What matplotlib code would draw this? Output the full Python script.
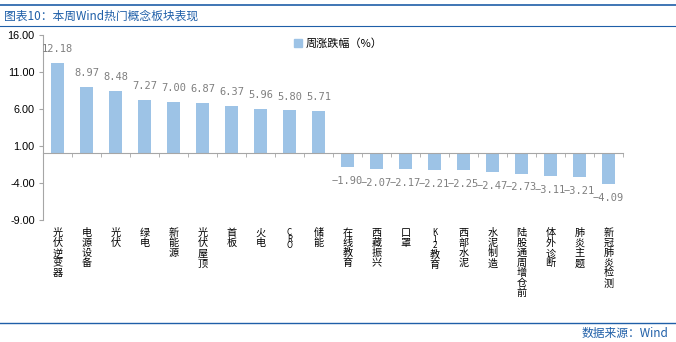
import matplotlib
matplotlib.use('Agg')
import matplotlib.pyplot as plt
import matplotlib.transforms as mtransforms
from matplotlib.lines import Line2D
from itertools import groupby
import numpy as np

plt.rcParams['font.family'] = ['Noto Sans CJK SC', 'DejaVu Sans']

# 数据
concepts = ['光伏逆变器', '电源设备', '光伏', '绿电', '新能源', '光伏屋顶', '首板', '火电',
            'CRO', '储能', '在线教育', '西藏振兴', '口罩', 'K12教育', '西部水泥', '水泥制造',
            '陆股通周增仓前', '体外诊断', '肺炎主题', '新冠肺炎检测']
weekly_change = [12.18, 8.97, 8.48, 7.27, 7.00, 6.87, 6.37, 5.96, 5.80, 5.71,
                 -1.90, -2.07, -2.17, -2.21, -2.25, -2.47, -2.73, -3.11, -3.21, -4.09]
yticks = [16, 11, 6, 1, -4, -9]

BAR = '#9DC3E6'
BLUE = '#1F5FA8'
AXIS = '#A6A6A6'

fig = plt.figure(figsize=(6.76, 3.42), dpi=100)
ax = fig.add_axes([43 / 676, 1 - 220 / 342, 580 / 676, 185 / 342])

x = np.arange(len(concepts))
ax.bar(x, weekly_change, width=0.42, color=BAR, zorder=2)

ax.set_xlim(-0.5, len(concepts) - 0.5)
ax.set_ylim(-9, 16)
ax.set_yticks(yticks)
ax.set_yticklabels([f'{v:.2f}' for v in yticks], fontsize=7.8, family='Liberation Sans')
ax.tick_params(axis='y', length=3, color=AXIS, pad=3)

for s in ['top', 'right']:
    ax.spines[s].set_visible(False)
ax.spines['left'].set_color(AXIS)
ax.spines['bottom'].set_position(('data', 0))
ax.spines['bottom'].set_color(AXIS)
ax.set_xticks([])
ax.set_xticks(np.arange(len(concepts) + 1) - 0.5, minor=True)
ax.tick_params(axis='x', which='minor', length=3, color=AXIS, direction='out')

# 数值标签
for xi, v in zip(x, weekly_change):
    s = f'{v:.2f}'.replace('-', '\u2212')
    off = 10 if v >= 0 else -10
    ax.annotate(s, (xi, v), xytext=(0, off), textcoords='offset points',
                ha='center', va='center', fontsize=7.5, color='#7F7F7F',
                family='DejaVu Sans Mono')

# 竖排类目标签：汉字与字母分组竖排，字母排得更紧
trans = mtransforms.blended_transform_factory(ax.transData, ax.transAxes)
renderer = fig.canvas.get_renderer()
for xi, name in zip(x, concepts):
    dy = -6
    for latin, chars in groupby(name, key=str.isascii):
        chars = list(chars)
        t = ax.annotate('\n'.join(chars), (xi, 0), xycoords=trans, xytext=(0, dy),
                        textcoords='offset points', ha='center', va='top',
                        fontsize=5.8 if latin else 7.3,
                        linespacing=0.62 if latin else 1.0, color='#000000')
        h = t.get_window_extent(renderer).height * 72 / fig.dpi
        dy -= h

# 图例
ax.legend([Line2D([], [], marker='s', color=BAR, linestyle='none', markersize=6)],
          ['周涨跌幅（%）'], loc='center left', bbox_to_anchor=(0.42, 0.951),
          frameon=False, fontsize=8, handletextpad=0.2, borderpad=0, handlelength=1)

# 标题与来源
fig.add_artist(Line2D([0, 1], [1 - 5 / 342, 1 - 5 / 342], color=BLUE, linewidth=1.2))
fig.add_artist(Line2D([0, 1], [1 - 26 / 342, 1 - 26 / 342], color=BLUE, linewidth=0.8))
fig.text(4 / 676, 1 - 16 / 342, '图表10：本周Wind热门概念板块表现', color=BLUE,
         fontsize=8.5, va='center', ha='left')
fig.add_artist(Line2D([0, 1], [1 - 323 / 342, 1 - 323 / 342], color=BLUE, linewidth=1.0))
fig.text(668 / 676, 1 - 333 / 342, '数据来源：Wind', color=BLUE,
         fontsize=8.5, va='center', ha='right')

fig.savefig('out.png', dpi=100, facecolor='white')
